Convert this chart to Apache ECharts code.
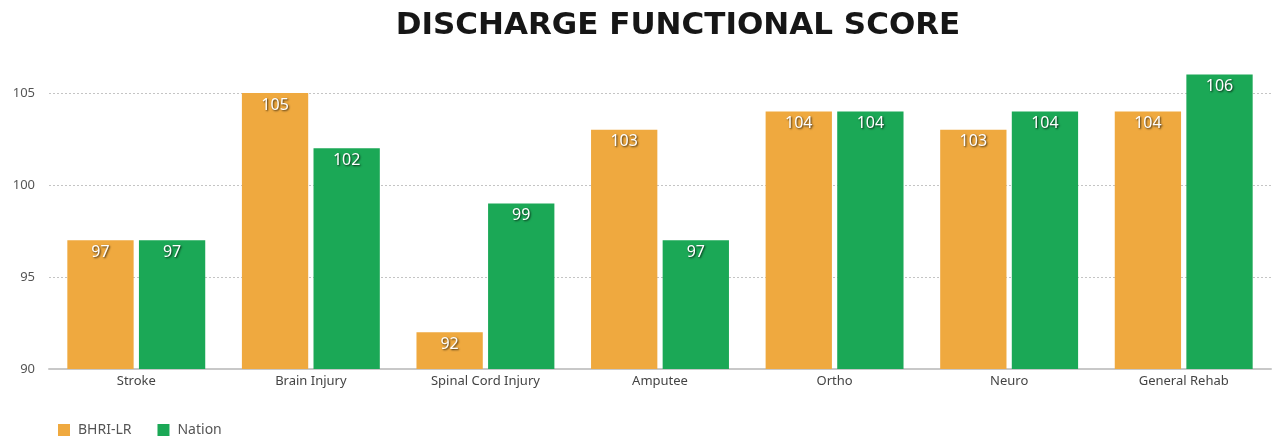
<!DOCTYPE html>
<html><head><meta charset="utf-8">
<script src="https://cdn.jsdelivr.net/npm/echarts@6/dist/echarts.min.js"></script>
<style>html,body{margin:0;padding:0;background:#fff}#c{width:1273px;height:443px}</style>
</head><body><div id="c"></div>
<script>
const categories = ["Stroke","Brain Injury","Spinal Cord Injury","Amputee","Ortho","Neuro","General Rehab"];
const bhri = [97,105,92,103,104,103,104];
const nation = [97,102,99,97,104,104,106];
const seriesNames = ["BHRI-LR","Nation"];
const titleText = "DISCHARGE FUNCTIONAL SCORE";

const chart = echarts.init(document.getElementById('c'), null, {renderer:'canvas'});
const labelStyle = {
  show:true, position:'insideTop', distance:4, color:'#fff', fontSize:16,
  fontFamily:'"Noto Sans", sans-serif',
  textShadowColor:'rgba(0,0,0,0.75)', textShadowBlur:2, textShadowOffsetX:1, textShadowOffsetY:1
};
chart.setOption({
  animation:false,
  title:{text:titleText, left:673, textAlign:'center', top:5,
    textStyle:{fontFamily:'"DejaVu Sans", sans-serif', fontSize:31, fontWeight:'bold', color:'#161616'}},
  legend:{left:53, bottom:1, itemWidth:12, itemHeight:12, itemGap:26, icon:'rect',
    textStyle:{fontFamily:'"Noto Sans", sans-serif', fontSize:14, color:'#555', padding:[0,0,0,3]}},
  grid:{left:49, right:2, top:74.6, bottom:74, containLabel:false},
  xAxis:{type:'category', data:categories,
    axisLine:{lineStyle:{color:'#c8c8c8', width:2}}, axisTick:{show:false},
    axisLabel:{fontFamily:'"Noto Sans", sans-serif', fontSize:13, color:'#444', margin:6}},
  yAxis:{type:'value', min:90, max:106, interval:5,
    axisLine:{show:false}, axisTick:{show:false},
    axisLabel:{fontFamily:'"Noto Sans", sans-serif', fontSize:13, color:'#555', margin:14, showMaxLabel:false},
    splitLine:{showMaxLine:false, lineStyle:{color:'#c4c4c4', type:[2,2], width:1}}},
  series:[
    {name:seriesNames[0], type:'bar', data:bhri, itemStyle:{color:'#EFA93F'}, barGap:'8%', barCategoryGap:'21%', label:labelStyle},
    {name:seriesNames[1], type:'bar', data:nation, itemStyle:{color:'#1BA856'}, label:labelStyle}
  ]
});
</script></body></html>
